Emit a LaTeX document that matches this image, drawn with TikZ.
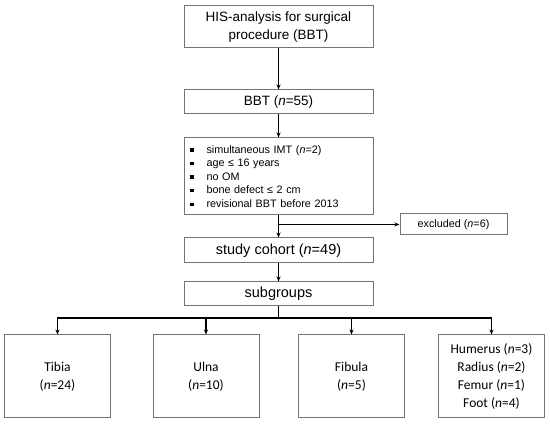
\documentclass[tikz,border=0pt]{standalone}
\usepackage{fontspec}
\setmainfont{Liberation Sans}
\newfontfamily\calibri{Carlito}
\usetikzlibrary{arrows.meta}
\tikzset{
  box/.style={draw=black!55, line width=1pt, inner sep=0pt, align=center},
  arr/.style={-{Stealth[length=5pt,width=4pt]}, line width=1.1pt},
  bone/.style={box, minimum width=106, minimum height=83, font=\calibri\fontsize{13.5}{18}\selectfont},
}
\newcommand{\crit}{\raisebox{1.5pt}{\rule{3.5pt}{3.5pt}}\hspace{13pt}}
\begin{document}
\begin{tikzpicture}[x=1pt,y=-1pt]
\useasboundingbox (0,0) rectangle (550,425);
% main column
\node[box, minimum width=189, minimum height=42, font=\fontsize{13.5}{18}\selectfont] (his) at (278.5,27) {HIS-analysis for surgical\\procedure (BBT)};
\node[box, minimum width=189, minimum height=24, font=\fontsize{13.5}{16}\selectfont] (bbt) at (278.5,102) {BBT (\textit{n}=55)};
\node[box, minimum width=189, minimum height=77, text width=177, inner xsep=6, align=left, font=\fontsize{10.8}{13.6}\selectfont] (crit) at (278.5,176.5)
  {\crit simultaneous IMT (\textit{n}=2)\\
   \crit age ≤ 16 years\\
   \crit no OM\\
   \crit bone defect ≤ 2 cm\\
   \crit revisional BBT before 2013};
\node[box, minimum width=107, minimum height=21, font=\fontsize{10.8}{13}\selectfont] (excl) at (453.5,224.5) {excluded (\textit{n}=6)};
\node[box, minimum width=189, minimum height=25, font=\fontsize{14.5}{17}\selectfont] (cohort) at (278.5,250.5) {study cohort (\textit{n}=49)};
\node[box, minimum width=189, minimum height=24, font=\fontsize{14.5}{17}\selectfont] (sub) at (278.5,294) {subgroups};

% subgroups
\node[bone] (tibia) at (57.5,376.5) {Tibia\\(\textit{n}=24)};
\node[bone] (ulna) at (206,376.5) {Ulna\\(\textit{n}=10)};
\node[bone] (fibula) at (351.5,376.5) {Fibula\\(\textit{n}=5)};
\node[bone] (other) at (491.5,376.5) {Humerus (\textit{n}=3)\\Radius (\textit{n}=2)\\Femur (\textit{n}=1)\\Foot (\textit{n}=4)};

% connectors
\draw[arr] (his) -- (bbt);
\draw[arr] (bbt) -- (crit);
\draw[arr] (crit) -- (cohort);
\coordinate (split) at (crit.south |- excl.west);
\draw[arr] (split) -- (excl.west);
\draw[arr] (cohort) -- (sub);
\coordinate (bus) at (278.5,318);
\draw[line width=1.1pt] (sub.south) -- (bus);
\foreach \g in {tibia,ulna,fibula,other}
  \draw[arr] (bus) -| (\g.north);
\end{tikzpicture}
\end{document}
